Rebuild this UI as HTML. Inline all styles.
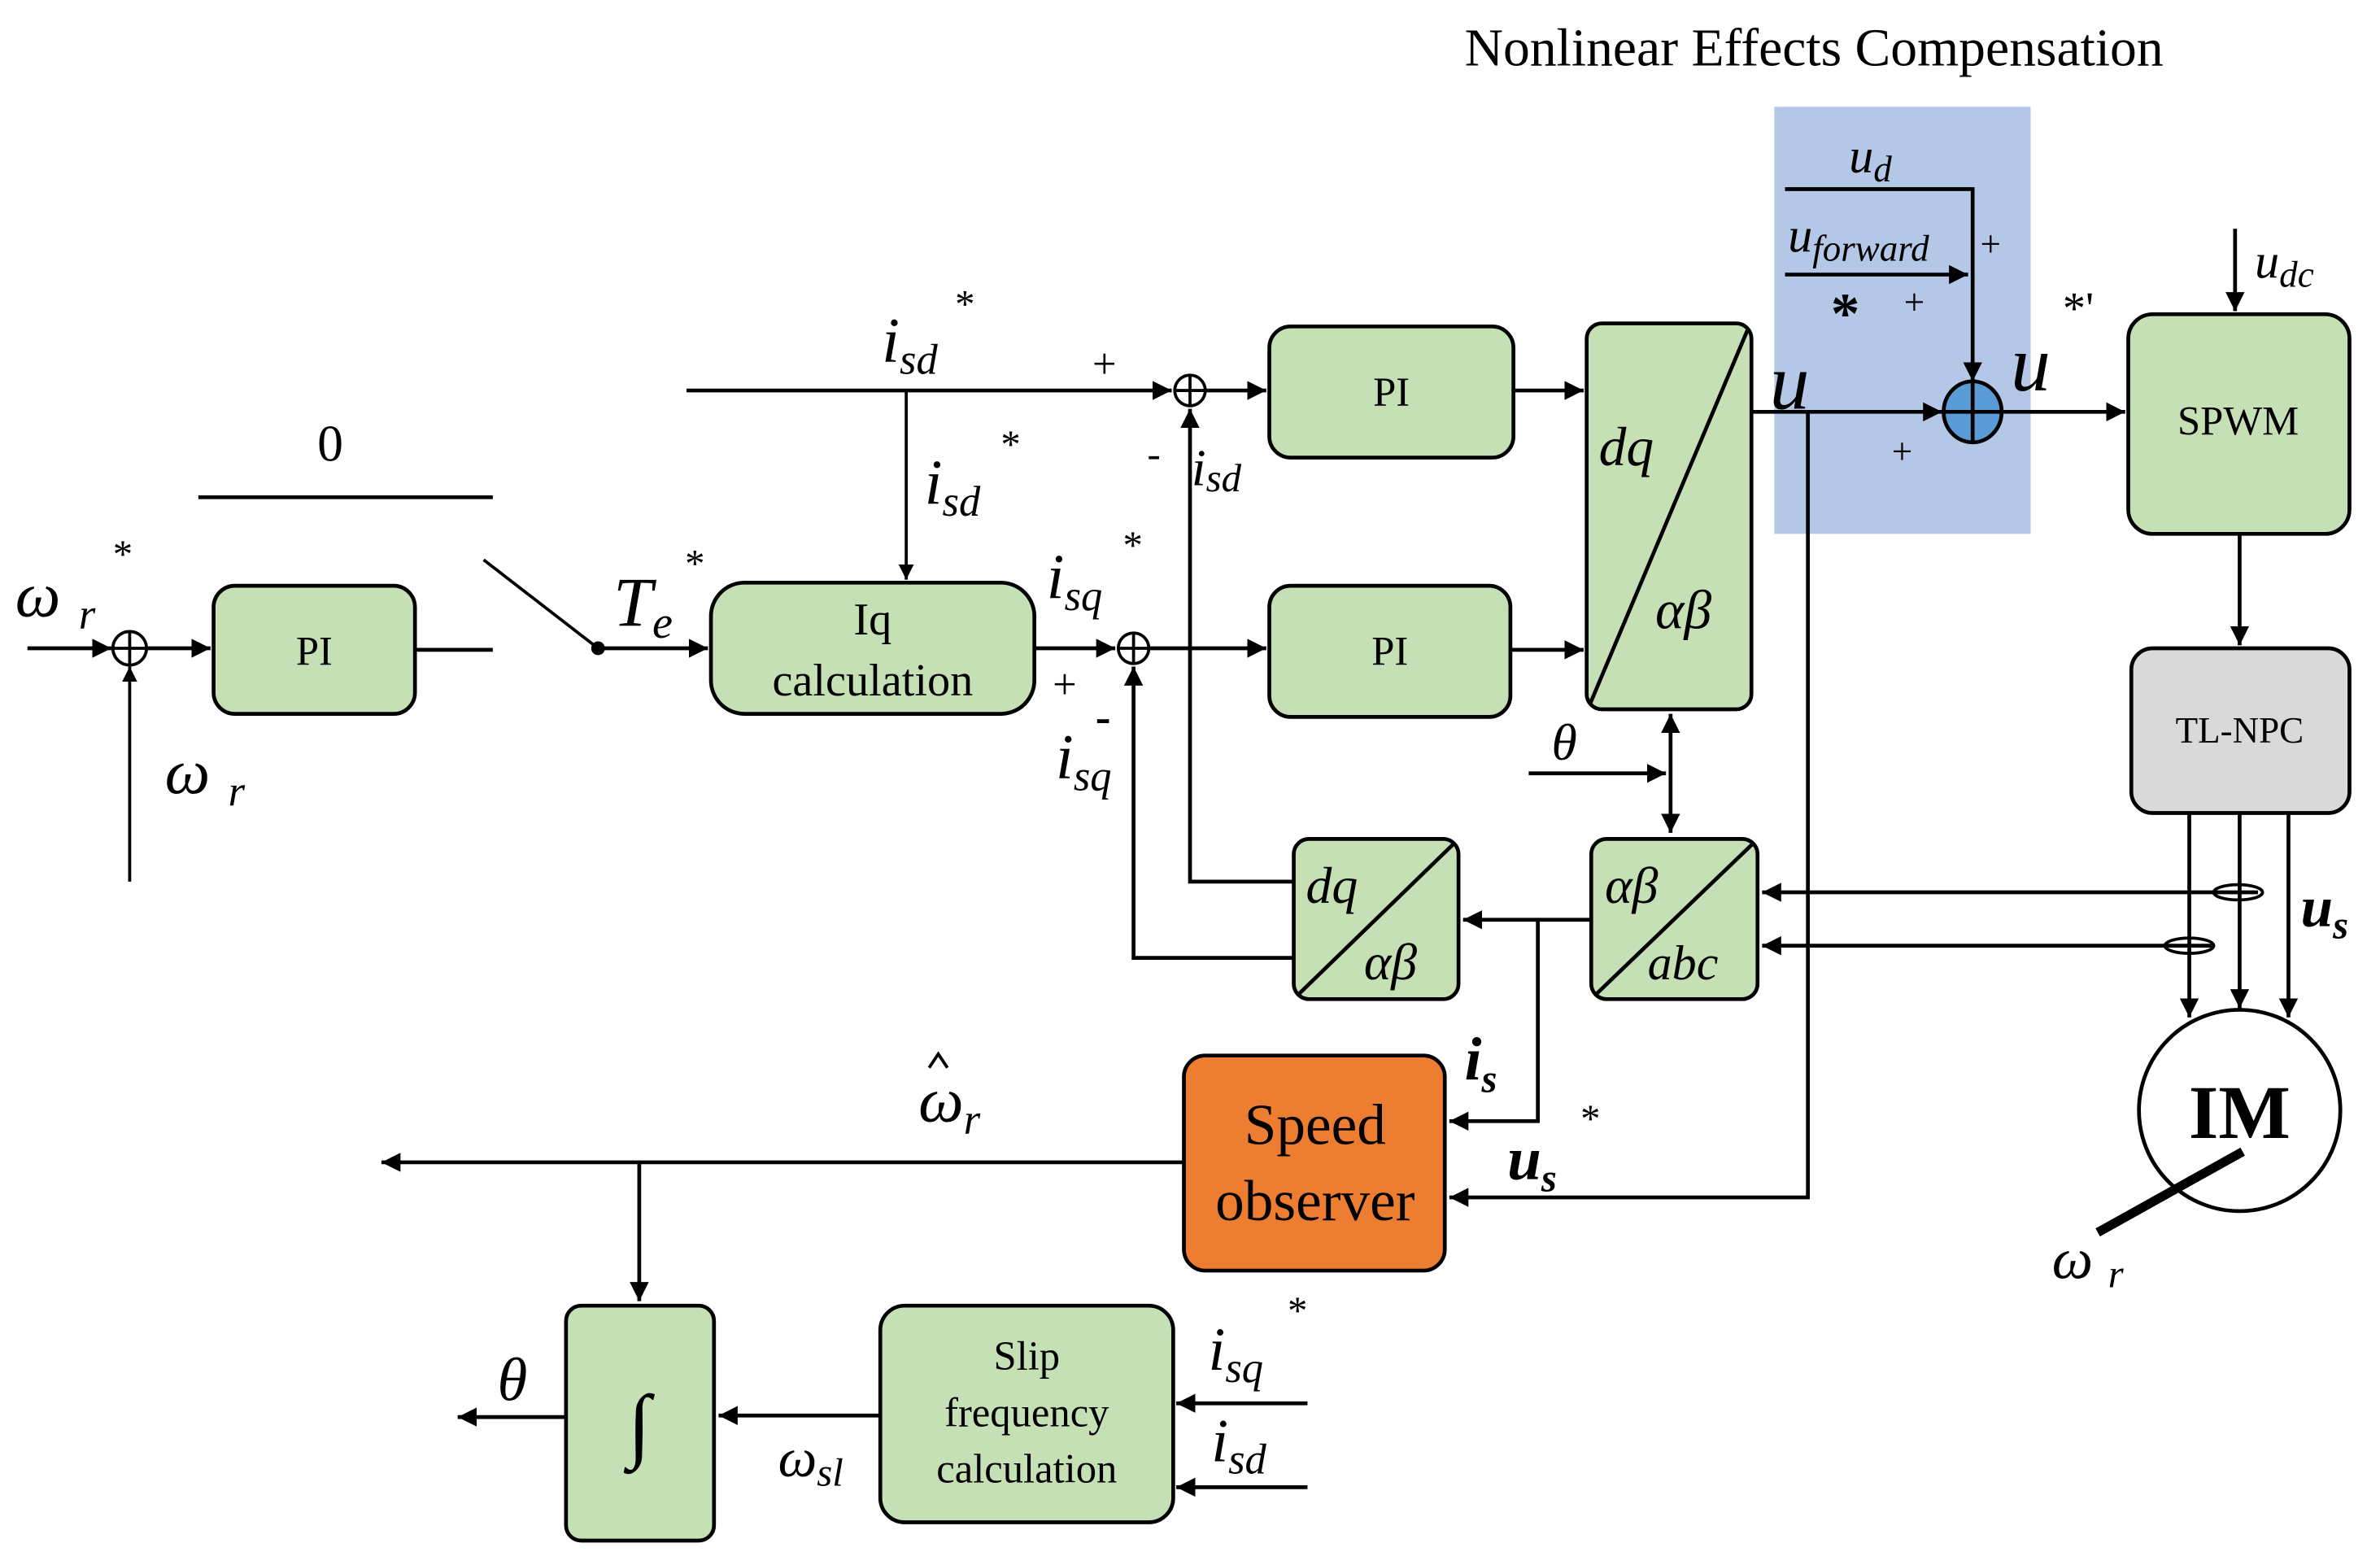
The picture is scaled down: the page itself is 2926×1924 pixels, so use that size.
<!DOCTYPE html>
<html><head><meta charset="utf-8"><style>
html,body{margin:0;padding:0;background:#fff;}
svg{display:block;}
text{font-family:"Liberation Serif",serif;fill:#000;}
.i{font-style:italic;}
.b{font-weight:bold;}
</style></head><body>
<svg width="2926" height="1924" viewBox="0 0 1560 1026" preserveAspectRatio="none" xmlns="http://www.w3.org/2000/svg">
<defs>
<marker id="a" viewBox="0 0 10 10" refX="10" refY="5" markerWidth="5" markerHeight="5" orient="auto-start-reverse" markerUnits="strokeWidth"><path d="M0,0 L10,5 L0,10 z" fill="#000"/></marker>
</defs>
<rect width="1560" height="1026" fill="#fff"/>
<text x="960" y="43" font-size="35">Nonlinear Effects Compensation</text>
<rect x="1163" y="70" width="168" height="280" fill="#b4c7e7"/>

<g stroke="#000" stroke-width="2.5" fill="none">
<polyline points="1170,124 1293,124 1293,250" marker-end="url(#a)"/>
<line x1="1170" y1="180" x2="1290" y2="180" marker-end="url(#a)"/>
<line x1="1148" y1="270" x2="1273" y2="270" marker-end="url(#a)"/>
<polyline points="1185,270 1185,785 950,785" marker-end="url(#a)"/>
<line x1="1313" y1="270" x2="1393" y2="270" marker-end="url(#a)"/>
<line x1="1465" y1="150" x2="1465" y2="204" marker-end="url(#a)"/>
<line x1="1468" y1="350" x2="1468" y2="423" marker-end="url(#a)"/>
<line x1="1435" y1="533" x2="1435" y2="667" marker-end="url(#a)"/>
<line x1="1468" y1="533" x2="1468" y2="661" marker-end="url(#a)"/>
<line x1="1500" y1="533" x2="1500" y2="667" marker-end="url(#a)"/>
<line x1="1480" y1="585" x2="1155" y2="585" marker-end="url(#a)"/>
<line x1="1450" y1="620" x2="1155" y2="620" marker-end="url(#a)"/>
<line x1="1043" y1="603" x2="959" y2="603" marker-end="url(#a)"/>
<polyline points="1008,603 1008,735 950,735" marker-end="url(#a)"/>
<polyline points="848,578 780,578 780,268" marker-end="url(#a)"/>
<polyline points="848,628 743,628 743,437" marker-end="url(#a)"/>
<line x1="1002" y1="507" x2="1092" y2="507" marker-end="url(#a)"/>
<line x1="1095" y1="468" x2="1095" y2="546" marker-start="url(#a)" marker-end="url(#a)"/>
<line x1="790" y1="256" x2="830" y2="256" marker-end="url(#a)"/>
<line x1="992" y1="256" x2="1038" y2="256" marker-end="url(#a)"/>
<line x1="753" y1="425" x2="830" y2="425" marker-end="url(#a)"/>
<line x1="990" y1="426" x2="1038" y2="426" marker-end="url(#a)"/>
<line x1="450" y1="256" x2="768" y2="256" marker-end="url(#a)"/>
<line x1="594" y1="256" x2="594" y2="380" marker-end="url(#a)" stroke-width="2"/>
<line x1="678" y1="425" x2="731" y2="425" marker-end="url(#a)"/>
<line x1="130" y1="326" x2="323" y2="326"/>
<line x1="272" y1="426" x2="323" y2="426"/>
<line x1="317" y1="367" x2="392" y2="425" stroke-width="2"/>
<line x1="392" y1="425" x2="464" y2="425" marker-end="url(#a)"/>
<line x1="18" y1="425" x2="73" y2="425" marker-end="url(#a)"/>
<line x1="96" y1="425" x2="138" y2="425" marker-end="url(#a)"/>
<line x1="85" y1="578" x2="85" y2="437" marker-end="url(#a)" stroke-width="2"/>
<line x1="776" y1="762" x2="250" y2="762" marker-end="url(#a)"/>
<line x1="419" y1="762" x2="419" y2="853" marker-end="url(#a)"/>
<line x1="371" y1="929" x2="300" y2="929" marker-end="url(#a)"/>
<line x1="577" y1="928" x2="471" y2="928" marker-end="url(#a)"/>
<line x1="857" y1="920" x2="771" y2="920" marker-end="url(#a)"/>
<line x1="857" y1="975" x2="771" y2="975" marker-end="url(#a)"/>
</g>
<circle cx="392" cy="425" r="4.5" fill="#000"/>

<g stroke="#000" stroke-width="2.5">
<rect x="1395" y="206" width="145" height="144" rx="16" fill="#c5e0b4"/>
<rect x="1397" y="425" width="143" height="108" rx="14" fill="#d9d9d9"/>
<rect x="1040" y="212" width="108" height="253" rx="10" fill="#c5e0b4"/>
<rect x="1043" y="550" width="109" height="105" rx="10" fill="#c5e0b4"/>
<rect x="848" y="550" width="108" height="105" rx="10" fill="#c5e0b4"/>
<rect x="832" y="214" width="160" height="86" rx="14" fill="#c5e0b4"/>
<rect x="832" y="384" width="158" height="86" rx="14" fill="#c5e0b4"/>
<rect x="466" y="382" width="212" height="86" rx="22" fill="#c5e0b4"/>
<rect x="140" y="384" width="132" height="84" rx="14" fill="#c5e0b4"/>
<rect x="776" y="692" width="171" height="141" rx="14" fill="#ed7d31"/>
<rect x="371" y="856" width="97" height="154" rx="10" fill="#c5e0b4"/>
<rect x="577" y="856" width="192" height="142" rx="16" fill="#c5e0b4"/>
<ellipse cx="1293" cy="270" rx="19" ry="20" fill="#5b9bd5"/>
<circle cx="780" cy="256" r="10" fill="#fff" stroke-width="2"/>
<circle cx="743" cy="425" r="10" fill="#fff" stroke-width="2"/>
<circle cx="85" cy="425" r="11" fill="#fff" stroke-width="2"/>
<circle cx="1468" cy="728" r="66" fill="#fff"/>
</g>
<g stroke="#000" fill="none">
<line x1="1274" y1="270" x2="1312" y2="270" stroke-width="2.5"/><line x1="1293" y1="250" x2="1293" y2="290" stroke-width="2.5"/>
<line x1="770" y1="256" x2="790" y2="256" stroke-width="2"/><line x1="780" y1="246" x2="780" y2="266" stroke-width="2"/>
<line x1="733" y1="425" x2="753" y2="425" stroke-width="2"/><line x1="743" y1="415" x2="743" y2="435" stroke-width="2"/>
<line x1="74" y1="425" x2="96" y2="425" stroke-width="2"/><line x1="85" y1="414" x2="85" y2="436" stroke-width="2"/>
<line x1="1042" y1="462" x2="1146" y2="215" stroke-width="2.5"/>
<line x1="1046" y1="652" x2="1149" y2="553" stroke-width="2.5"/>
<line x1="851" y1="652" x2="953" y2="553" stroke-width="2.5"/>
<ellipse cx="1467" cy="585" rx="16" ry="5" stroke-width="2"/>
<ellipse cx="1435" cy="620" rx="16" ry="5" stroke-width="2"/>
<line x1="1470" y1="755" x2="1375" y2="808" stroke-width="6"/>
<polyline points="609,700 615,691 621,700" stroke-width="2"/>
</g>

<text x="1212" y="113" font-size="32" class="i">u<tspan font-size="24" dy="6">d</tspan></text>
<text x="1172" y="165" font-size="32" class="i">u<tspan font-size="24" dy="6">forward</tspan></text>
<text x="1298" y="168" font-size="24">+</text>
<text x="1200" y="218" font-size="38" class="b">*</text>
<text x="1248" y="206" font-size="24">+</text>
<text x="1160" y="268" font-size="52" class="i">u</text>
<text x="1240" y="304" font-size="24">+</text>
<text x="1318" y="256" font-size="52" class="i">u</text>
<text x="1352" y="212" font-size="30">*'</text>
<text x="1478" y="182" font-size="32" class="i">u<tspan font-size="24" dy="6">dc</tspan></text>
<text x="1467" y="285" font-size="27" text-anchor="middle">SPWM</text>
<text x="1468" y="487" font-size="24" text-anchor="middle">TL-NPC</text>
<text x="1468" y="746" font-size="50" class="b" text-anchor="middle">IM</text>
<text x="1345" y="838" font-size="38" class="i">ω<tspan font-size="26" dx="10" dy="6">r</tspan></text>
<text x="1508" y="607" font-size="38" class="i b">u<tspan font-size="26" dy="8">s</tspan></text>
<text x="1048" y="305" font-size="36" class="i">dq</text>
<text x="1085" y="412" font-size="36" class="i">αβ</text>
<text x="1052" y="592" font-size="34" class="i">αβ</text>
<text x="1080" y="642" font-size="32" class="i">abc</text>
<text x="856" y="592" font-size="34" class="i">dq</text>
<text x="894" y="642" font-size="34" class="i">αβ</text>
<text x="1017" y="498" font-size="34" class="i">θ</text>
<text x="912" y="266" font-size="27" text-anchor="middle">PI</text>
<text x="911" y="436" font-size="27" text-anchor="middle">PI</text>
<text x="206" y="436" font-size="27" text-anchor="middle">PI</text>
<text x="572" y="416" font-size="30" text-anchor="middle">Iq</text>
<text x="572" y="456" font-size="30" text-anchor="middle">calculation</text>
<text x="578" y="237" font-size="42" class="i">i<tspan font-size="28" dy="8">sd</tspan></text>
<text x="626" y="208" font-size="26">*</text>
<text x="716" y="248" font-size="28">+</text>
<text x="606" y="330" font-size="42" class="i">i<tspan font-size="28" dy="8">sd</tspan></text>
<text x="656" y="300" font-size="26">*</text>
<text x="752" y="306" font-size="26">-</text>
<text x="781" y="318" font-size="34" class="i">i<tspan font-size="26" dy="4">sd</tspan></text>
<text x="686" y="392" font-size="42" class="i">i<tspan font-size="28" dy="8">sq</tspan></text>
<text x="736" y="366" font-size="26">*</text>
<text x="690" y="458" font-size="28">+</text>
<text x="718" y="480" font-size="30" class="b">-</text>
<text x="692" y="510" font-size="42" class="i">i<tspan font-size="28" dy="8">sq</tspan></text>
<text x="208" y="302" font-size="34">0</text>
<text x="402" y="410" font-size="46" class="i">T<tspan font-size="30" dy="8">e</tspan></text>
<text x="449" y="378" font-size="26">*</text>
<text x="10" y="404" font-size="42" class="i">ω<tspan font-size="28" dx="12" dy="8">r</tspan></text>
<text x="74" y="372" font-size="26">*</text>
<text x="108" y="520" font-size="42" class="i">ω<tspan font-size="28" dx="12" dy="8">r</tspan></text>
<text x="862" y="750" font-size="38" text-anchor="middle">Speed</text>
<text x="862" y="800" font-size="38" text-anchor="middle">observer</text>
<text x="960" y="708" font-size="40" class="i b">i<tspan font-size="26" dy="8">s</tspan></text>
<text x="988" y="773" font-size="40" class="i b">u<tspan font-size="26" dy="8">s</tspan></text>
<text x="1036" y="742" font-size="26">*</text>
<text x="602" y="735" font-size="42" class="i">ω<tspan font-size="28" dy="8">r</tspan></text>
<text x="419" y="952" font-size="54" text-anchor="middle">∫</text>
<text x="326" y="918" font-size="40" class="i">θ</text>
<text x="673" y="898" font-size="27" text-anchor="middle">Slip</text>
<text x="673" y="935" font-size="27" text-anchor="middle">frequency</text>
<text x="673" y="972" font-size="27" text-anchor="middle">calculation</text>
<text x="510" y="968" font-size="36" class="i">ω<tspan font-size="26" dy="6">sl</tspan></text>
<text x="792" y="898" font-size="40" class="i">i<tspan font-size="28" dy="8">sq</tspan></text>
<text x="844" y="868" font-size="26">*</text>
<text x="794" y="958" font-size="40" class="i">i<tspan font-size="28" dy="8">sd</tspan></text>
</svg>
</body></html>
